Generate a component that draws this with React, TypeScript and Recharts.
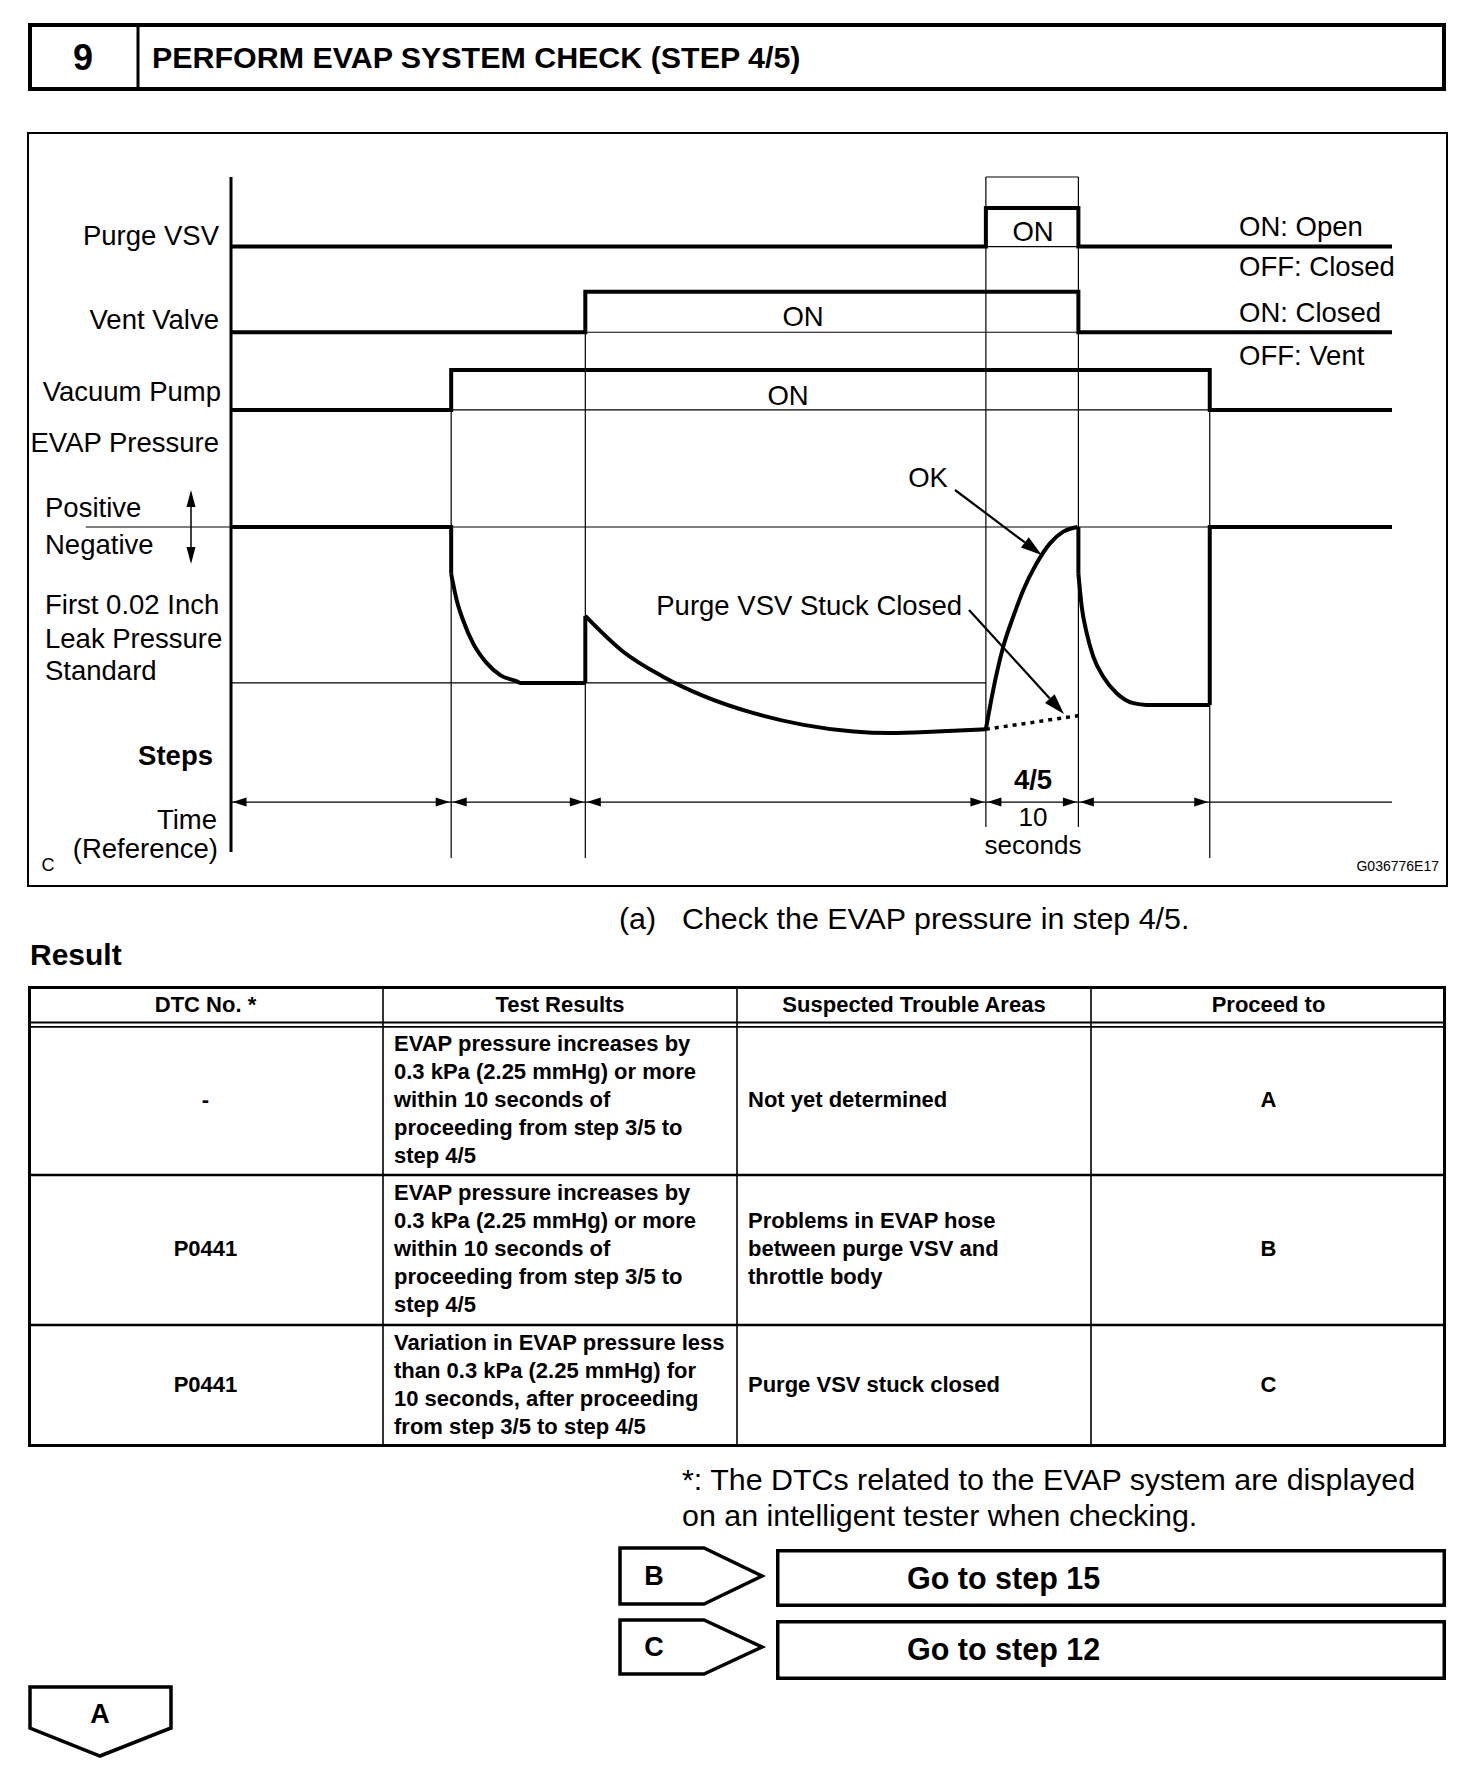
import React from 'react';
import { ComposedChart, Line, XAxis, YAxis, ReferenceLine, Scatter } from 'recharts';

const FONT = '"Liberation Sans", Arial, Helvetica, sans-serif';

// ---------------- data ----------------
// step boundaries on the reference time axis (seconds); 4/5 step lasts 10 s
const STEP_TIMES = [0, 23.8, 38.3, 81.6, 91.6, 105.8, 125.5];
// state in each interval between boundaries (0 = OFF, 1 = ON)
const PURGE_VSV_ON = [0, 0, 0, 1, 0, 0];
const VENT_VALVE_ON = [0, 0, 1, 1, 0, 0];
const VACUUM_PUMP_ON = [0, 1, 1, 1, 1, 0];
const DIM_SEGMENTS = [0, 1, 2, 3, 4];

// EVAP pressure, relative (0 = atmosphere, -1 = first 0.02 inch leak pressure standard)
const P_IDLE_T = [0, 23.8, 23.8];
const P_IDLE = [0, 0, -0.3];
const P_PUMPDOWN_T = [23.8, 24.4, 25.1, 26.2, 27.6, 29.1, 30.9, 31.3, 38.3];
const P_PUMPDOWN = [-0.3, -0.47, -0.6, -0.75, -0.87, -0.95, -0.99, -1.0, -1.0];
const P_VENTCLOSE_T = [38.3, 38.3];
const P_VENTCLOSE = [-1.0, -0.57];
const P_DECAY_T = [38.3, 42.4, 46.7, 51.05, 56.5, 61.9, 67.3, 71.2, 76.3, 81.6];
const P_DECAY = [-0.57, -0.8, -0.96, -1.083, -1.194, -1.269, -1.312, -1.322, -1.312, -1.297];
const P_OK_T = [81.6, 82.04, 82.77, 83.48, 84.56, 85.65, 87.09, 88.53, 89.97, 91.5];
const P_OK = [-1.297, -1.153, -0.939, -0.767, -0.575, -0.404, -0.233, -0.105, -0.03, 0];
const P_STUCK_T = [81.6, 91.6];
const P_STUCK = [-1.297, -1.21];
const P_DROP_T = [91.6, 91.6];
const P_DROP = [0, -0.3];
const P_REPUMP_T = [91.6, 91.96, 92.5, 93.21, 94.29, 95.74, 97.54, 98.98, 105.8];
const P_REPUMP = [-0.3, -0.511, -0.681, -0.831, -0.96, -1.066, -1.13, -1.141, -1.141];
const P_RELEASE_T = [105.8, 105.8, 125.5];
const P_RELEASE = [-1.141, 0, 0];

// table content
const TABLE_HEAD = ['DTC No. *', 'Test Results', 'Suspected Trouble Areas', 'Proceed to'];
const TABLE_DTC = ['-', 'P0441', 'P0441'];
const TABLE_RESULTS = [
  ['EVAP pressure increases by', '0.3 kPa (2.25 mmHg) or more', 'within 10 seconds of', 'proceeding from step 3/5 to', 'step 4/5'],
  ['EVAP pressure increases by', '0.3 kPa (2.25 mmHg) or more', 'within 10 seconds of', 'proceeding from step 3/5 to', 'step 4/5'],
  ['Variation in EVAP pressure less', 'than 0.3 kPa (2.25 mmHg) for', '10 seconds, after proceeding', 'from step 3/5 to step 4/5'],
];
const TABLE_AREAS = [
  ['Not yet determined'],
  ['Problems in EVAP hose', 'between purge VSV and', 'throttle body'],
  ['Purge VSV stuck closed'],
];
const TABLE_PROCEED = ['A', 'B', 'C'];

// ---------------- layout ----------------
const CH_W = 1472;
const CH_H = 900;
const MARGIN = { top: 177, right: 80, bottom: 48, left: 31 };
const Y_AXIS_W = 200;
const ROWS = {
  purge: { off: 89.7, on: 95.4 },
  vent: { off: 77.0, on: 83.0 },
  pump: { off: 65.5, on: 71.4 },
};
const P_ZERO = 48.15;
const P_SCALE = 23.1;
const DIM_Y = 7.4;
const TOP_V = 100;
const LINE_BOTTOM = -0.9;
const STEP45_BOTTOM = 3.7;

const pv = (p: number) => P_ZERO + p * P_SCALE;
const zipP = (t: number[], p: number[]) => t.map((x, i) => ({ x, y: pv(p[i]) }));

const stepSeries = (states: number[], row: { off: number; on: number }) => {
  const lvl = (s: number) => row.off + s * (row.on - row.off);
  const pts = [{ x: STEP_TIMES[0], y: lvl(states[0]) }];
  for (let i = 1; i < states.length; i++) {
    if (states[i] !== states[i - 1]) {
      pts.push({ x: STEP_TIMES[i], y: lvl(states[i - 1]) });
      pts.push({ x: STEP_TIMES[i], y: lvl(states[i]) });
    }
  }
  pts.push({ x: STEP_TIMES[states.length], y: lvl(states[states.length - 1]) });
  return pts;
};

const dimArrows = DIM_SEGMENTS.flatMap((i) => [
  { x: STEP_TIMES[i], y: DIM_Y, dir: -1 },
  { x: STEP_TIMES[i + 1], y: DIM_Y, dir: 1 },
]);

const DimArrow = (props: any) => {
  const { cx, cy, payload } = props;
  if (cx == null || cy == null) return null;
  const d = payload.dir;
  const L = 14;
  const H = 4.5;
  const tip = cx - d * 1.5;
  return <polygon points={`${tip},${cy} ${tip - d * L},${cy - H} ${tip - d * L},${cy + H}`} fill="#000" />;
};

const ArrowLine = (props: any) => {
  const { x1, y1, x2, y2 } = props;
  const ang = Math.atan2(y2 - y1, x2 - x1);
  const L = 21;
  const W = 6.5;
  const bx = x2 - L * Math.cos(ang);
  const by = y2 - L * Math.sin(ang);
  const px = -Math.sin(ang) * W;
  const py = Math.cos(ang) * W;
  return (
    <g>
      <line x1={x1} y1={y1} x2={bx} y2={by} stroke="#000" strokeWidth={2.2} />
      <polygon points={`${x2},${y2} ${bx + px},${by + py} ${bx - px},${by - py}`} fill="#000" />
    </g>
  );
};

const thin = { stroke: '#000', strokeWidth: 1.2, ifOverflow: 'visible' as const };
const thick = { type: 'linear' as const, stroke: '#000', strokeWidth: 4, dot: false, activeDot: false, isAnimationActive: false, dataKey: 'y' };
const curve = { ...thick, type: 'monotone' as const };

const T = ({ x, y, s = 27.5, b = false, a = 'start', children }: any) => (
  <text x={x} y={y} fontSize={s} fontWeight={b ? 700 : 400} textAnchor={a} dominantBaseline="central" fontFamily={FONT} fill="#000">
    {children}
  </text>
);

const CHART_LABELS = [
  { t: 'Purge VSV', x: 219, y: 235, a: 'end' },
  { t: 'Vent Valve', x: 219, y: 319, a: 'end' },
  { t: 'Vacuum Pump', x: 221, y: 391, a: 'end' },
  { t: 'EVAP Pressure', x: 219, y: 442, a: 'end' },
  { t: 'Positive', x: 45, y: 507, a: 'start' },
  { t: 'Negative', x: 45, y: 544, a: 'start' },
  { t: 'First 0.02 Inch', x: 45, y: 604, a: 'start' },
  { t: 'Leak Pressure', x: 45, y: 638, a: 'start' },
  { t: 'Standard', x: 45, y: 670, a: 'start' },
  { t: 'Time', x: 217, y: 819, a: 'end' },
  { t: '(Reference)', x: 218, y: 848, a: 'end' },
  { t: 'ON: Open', x: 1239, y: 226, a: 'start' },
  { t: 'OFF: Closed', x: 1239, y: 266, a: 'start' },
  { t: 'ON: Closed', x: 1239, y: 312, a: 'start' },
  { t: 'OFF: Vent', x: 1239, y: 355, a: 'start' },
  { t: 'ON', x: 1033, y: 231, a: 'middle' },
  { t: 'ON', x: 803, y: 316, a: 'middle' },
  { t: 'ON', x: 788, y: 395, a: 'middle' },
  { t: 'OK', x: 928, y: 477, a: 'middle' },
  { t: 'Purge VSV Stuck Closed', x: 962, y: 605, a: 'end' },
];

const COLS = [28, 383, 737, 1091, 1446];
const ROW_Y = [1027, 1175, 1325, 1447];
const LINE_H = 27.8;

const Pentagon = ({ pts }: { pts: number[][] }) => (
  <polygon points={pts.map((p) => p.join(',')).join(' ')} fill="#fff" stroke="#000" strokeWidth={3.5} strokeLinejoin="miter" />
);

export default function App() {
  return (
    <div style={{ position: 'absolute', left: 0, top: 0, width: 1472, height: 1788, background: '#fff', fontFamily: FONT }}>
      <div style={{ position: 'absolute', left: 0, top: 0 }}>
        <ComposedChart width={CH_W} height={CH_H} margin={MARGIN}>
          <XAxis dataKey="x" type="number" domain={[STEP_TIMES[0], STEP_TIMES[STEP_TIMES.length - 1]]} allowDataOverflow hide />
          <YAxis
            type="number"
            domain={[0, TOP_V]}
            allowDataOverflow
            width={Y_AXIS_W}
            tick={false}
            tickLine={false}
            axisLine={{ stroke: '#000', strokeWidth: 3 }}
          />
          {/* thin guide lines */}
          <ReferenceLine segment={[{ x: STEP_TIMES[1], y: ROWS.pump.on }, { x: STEP_TIMES[1], y: LINE_BOTTOM }]} {...thin} />
          <ReferenceLine segment={[{ x: STEP_TIMES[2], y: ROWS.vent.on }, { x: STEP_TIMES[2], y: LINE_BOTTOM }]} {...thin} />
          <ReferenceLine segment={[{ x: STEP_TIMES[3], y: TOP_V }, { x: STEP_TIMES[3], y: STEP45_BOTTOM }]} {...thin} />
          <ReferenceLine segment={[{ x: STEP_TIMES[4], y: TOP_V }, { x: STEP_TIMES[4], y: STEP45_BOTTOM }]} {...thin} />
          <ReferenceLine segment={[{ x: STEP_TIMES[5], y: ROWS.pump.on }, { x: STEP_TIMES[5], y: LINE_BOTTOM }]} {...thin} />
          <ReferenceLine segment={[{ x: STEP_TIMES[3], y: TOP_V }, { x: STEP_TIMES[4], y: TOP_V }]} {...thin} />
          <ReferenceLine segment={[{ x: STEP_TIMES[3], y: ROWS.purge.off }, { x: STEP_TIMES[4], y: ROWS.purge.off }]} {...thin} />
          <ReferenceLine segment={[{ x: STEP_TIMES[2], y: ROWS.vent.off }, { x: STEP_TIMES[4], y: ROWS.vent.off }]} {...thin} />
          <ReferenceLine segment={[{ x: STEP_TIMES[1], y: ROWS.pump.off }, { x: STEP_TIMES[5], y: ROWS.pump.off }]} {...thin} />
          <ReferenceLine segment={[{ x: -15.7, y: pv(0) }, { x: STEP_TIMES[6], y: pv(0) }]} {...thin} />
          <ReferenceLine segment={[{ x: STEP_TIMES[0], y: pv(-1) }, { x: STEP_TIMES[3], y: pv(-1) }]} {...thin} />
          <ReferenceLine segment={[{ x: STEP_TIMES[0], y: DIM_Y }, { x: STEP_TIMES[6], y: DIM_Y }]} {...thin} />
          {/* annotation arrows */}
          <ReferenceLine segment={[{ x: 78.26, y: 53.63 }, { x: 87.63, y: 44.0 }]} ifOverflow="visible" shape={ArrowLine} />
          <ReferenceLine segment={[{ x: 79.78, y: 35.85 }, { x: 90.04, y: 20.44 }]} ifOverflow="visible" shape={ArrowLine} />

          {/* signals */}
          <Line data={stepSeries(PURGE_VSV_ON, ROWS.purge)} {...thick} />
          <Line data={stepSeries(VENT_VALVE_ON, ROWS.vent)} {...thick} />
          <Line data={stepSeries(VACUUM_PUMP_ON, ROWS.pump)} {...thick} />

          {/* EVAP pressure */}
          <Line data={zipP(P_IDLE_T, P_IDLE)} {...thick} />
          <Line data={zipP(P_PUMPDOWN_T, P_PUMPDOWN)} {...curve} />
          <Line data={zipP(P_VENTCLOSE_T, P_VENTCLOSE)} {...thick} />
          <Line data={zipP(P_DECAY_T, P_DECAY)} {...curve} />
          <Line data={zipP(P_OK_T, P_OK)} {...curve} />
          <Line data={zipP(P_STUCK_T, P_STUCK)} {...thick} strokeWidth={3.5} strokeDasharray="4 5" />
          <Line data={zipP(P_DROP_T, P_DROP)} {...thick} />
          <Line data={zipP(P_REPUMP_T, P_REPUMP)} {...curve} />
          <Line data={zipP(P_RELEASE_T, P_RELEASE)} {...thick} />

          <Scatter data={dimArrows} dataKey="y" shape={DimArrow} isAnimationActive={false} />
        </ComposedChart>
      </div>

      <svg width={1472} height={1788} style={{ position: 'absolute', left: 0, top: 0, pointerEvents: 'none' }}>
        {/* header */}
        <rect x={30} y={25} width={1414} height={64} fill="none" stroke="#000" strokeWidth={4} />
        <line x1={138} y1={23} x2={138} y2={91} stroke="#000" strokeWidth={3} />
        <T x={83} y={57} s={36} b a="middle">9</T>
        <T x={152} y={57} s={30.4} b>PERFORM EVAP SYSTEM CHECK (STEP 4/5)</T>

        {/* chart frame */}
        <rect x={28} y={133} width={1419} height={753} fill="none" stroke="#000" strokeWidth={2} />
        {CHART_LABELS.map((l, i) => (
          <T key={i} x={l.x} y={l.y} a={l.a}>{l.t}</T>
        ))}
        <T x={213} y={755} b a="end">Steps</T>
        <T x={1033} y={779} b a="middle">4/5</T>
        <T x={1033} y={817} s={26} a="middle">10</T>
        <T x={1033} y={845} s={26} a="middle">seconds</T>
        <T x={48} y={865} s={18} a="middle">C</T>
        <T x={1439} y={866} s={14} a="end">G036776E17</T>
        {/* positive / negative double arrow */}
        <line x1={191} y1={505} x2={191} y2={550} stroke="#000" strokeWidth={1.5} />
        <polygon points="191,490 186.5,507 195.5,507" fill="#000" />
        <polygon points="191,564 186.5,547 195.5,547" fill="#000" />

        {/* instruction + result */}
        <T x={619} y={918} s={30.4}>(a)</T>
        <T x={682} y={918} s={30.4}>Check the EVAP pressure in step 4/5.</T>
        <T x={30} y={954} s={30} b>Result</T>

        {/* table */}
        <rect x={29.5} y={987.5} width={1415} height={458} fill="none" stroke="#000" strokeWidth={3} />
        {COLS.slice(1, 4).map((x) => (
          <line key={x} x1={x} y1={986} x2={x} y2={1447} stroke="#000" strokeWidth={1.6} />
        ))}
        <line x1={28} y1={1022.5} x2={1446} y2={1022.5} stroke="#000" strokeWidth={1.8} />
        <line x1={28} y1={1026.8} x2={1446} y2={1026.8} stroke="#000" strokeWidth={1.8} />
        <line x1={28} y1={1175} x2={1446} y2={1175} stroke="#000" strokeWidth={2.6} />
        <line x1={28} y1={1325} x2={1446} y2={1325} stroke="#000" strokeWidth={2.6} />
        {TABLE_HEAD.map((h, i) => (
          <T key={h} x={(COLS[i] + COLS[i + 1]) / 2} y={1004} s={22} b a="middle">{h}</T>
        ))}
        {TABLE_DTC.map((d, r) => {
          const cy = (ROW_Y[r] + ROW_Y[r + 1]) / 2 - 1.5;
          const res = TABLE_RESULTS[r];
          const area = TABLE_AREAS[r];
          return (
            <g key={r}>
              <T x={(COLS[0] + COLS[1]) / 2} y={cy} s={22} b a="middle">{d}</T>
              {res.map((ln, k) => (
                <T key={k} x={394} y={cy + (k - (res.length - 1) / 2) * LINE_H} s={22} b>{ln}</T>
              ))}
              {area.map((ln, k) => (
                <T key={k} x={748} y={cy + (k - (area.length - 1) / 2) * LINE_H} s={22} b>{ln}</T>
              ))}
              <T x={(COLS[3] + COLS[4]) / 2} y={cy} s={22} b a="middle">{TABLE_PROCEED[r]}</T>
            </g>
          );
        })}

        {/* footnote */}
        <T x={682} y={1479} s={30.4}>*: The DTCs related to the EVAP system are displayed</T>
        <T x={682} y={1515} s={30.4}>on an intelligent tester when checking.</T>

        {/* branches */}
        <Pentagon pts={[[620, 1548], [704, 1548], [762, 1576], [704, 1604], [620, 1604]]} />
        <T x={654} y={1576} s={27} b a="middle">B</T>
        <rect x={777.75} y={1550.75} width={666.5} height={54.5} fill="#fff" stroke="#000" strokeWidth={3.5} />
        <T x={907} y={1578} s={30.5} b>Go to step 15</T>

        <Pentagon pts={[[620, 1620], [704, 1620], [762, 1647], [704, 1674], [620, 1674]]} />
        <T x={654} y={1647} s={27} b a="middle">C</T>
        <rect x={777.75} y={1621.75} width={666.5} height={56.5} fill="#fff" stroke="#000" strokeWidth={3.5} />
        <T x={907} y={1649} s={30.5} b>Go to step 12</T>

        <Pentagon pts={[[30, 1687], [171, 1687], [171, 1728], [100, 1756], [30, 1728]]} />
        <T x={100} y={1714} s={27} b a="middle">A</T>
      </svg>
    </div>
  );
}
